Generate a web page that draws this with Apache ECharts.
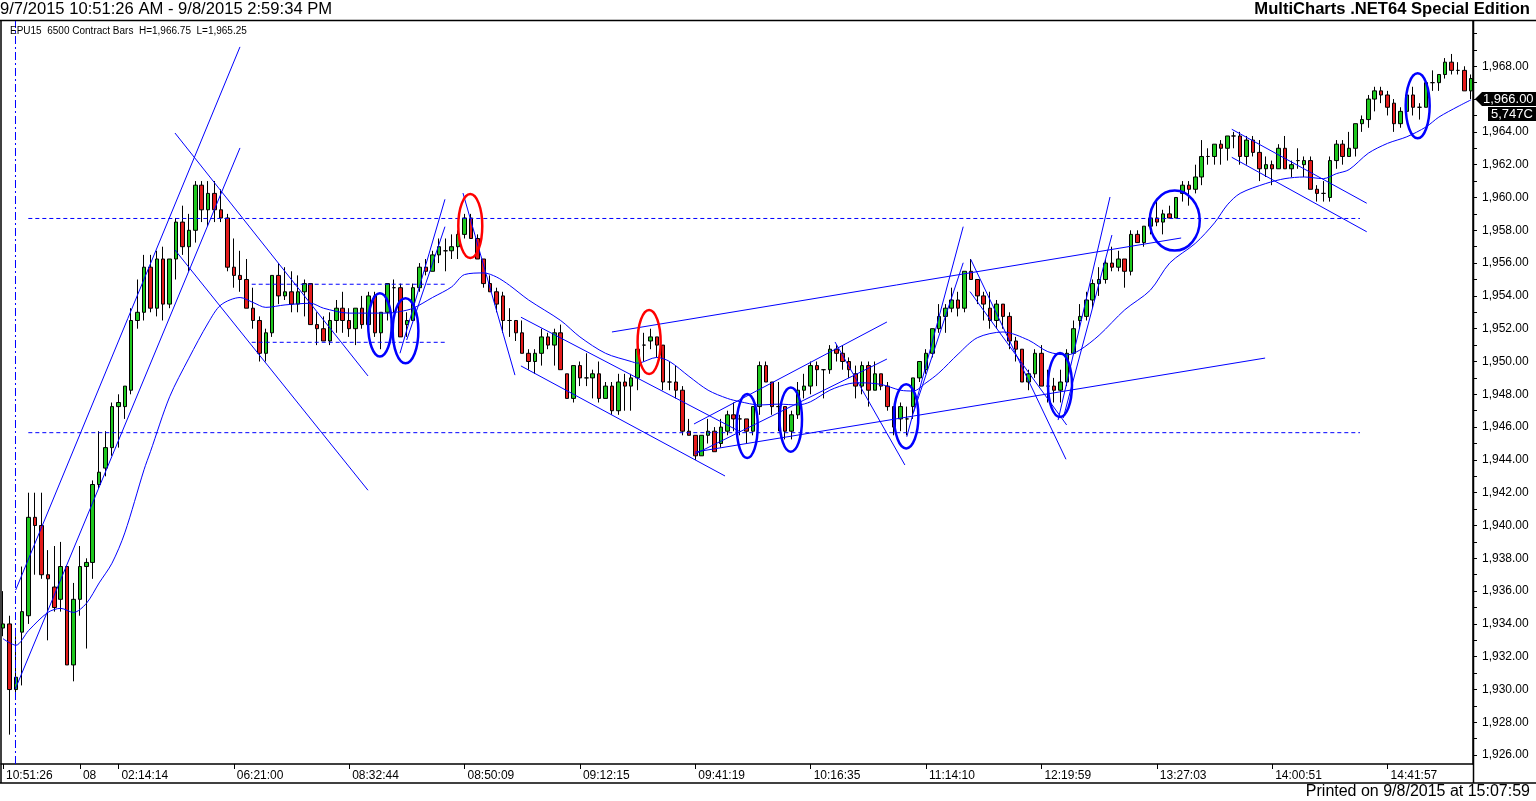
<!DOCTYPE html>
<html>
<head>
    <meta charset="utf-8">
    <title>EPU15 6500 Contract Bars</title>
    <script src="https://cdn.jsdelivr.net/npm/echarts/dist/echarts.min.js"></script>
    <style>
        html, body { margin: 0; padding: 0; background: #fff; }
        #container { width: 1536px; height: 801px; }
    </style>
</head>
<body>
<div id="container"></div>
<script>
    // bars: [open, close, low, high], one per 6500 contracts
    var candles = [
        [1933.75, 1934, 1933.25, 1936], [1934, 1930, 1927.25, 1934.5], [1930, 1930.75, 1929.75, 1933.25],
        [1933.5, 1934.75, 1930.25, 1937.5], [1934.5, 1940.5, 1934, 1942], [1940.5, 1940, 1937, 1942],
        [1940, 1937, 1936.75, 1942], [1937, 1936.75, 1933, 1938.5], [1936.25, 1935, 1934.75, 1938.75],
        [1935.5, 1937.5, 1934.75, 1939], [1937.5, 1931.5, 1931.5, 1937.5], [1931.5, 1935.5, 1930.5, 1936.5],
        [1935.5, 1937.5, 1934.5, 1938.75], [1937.5, 1937.75, 1932.5, 1938], [1937.75, 1942.5, 1936.75, 1942.75],
        [1942.5, 1943.25, 1942.25, 1945.75], [1943.5, 1944.75, 1943, 1945.75], [1944.75, 1947.25, 1944.25, 1947.5],
        [1947.25, 1947.5, 1944.75, 1948], [1947.25, 1948.5, 1946.5, 1948.5], [1948.25, 1952.5, 1948, 1953.25],
        [1952.5, 1953, 1952, 1955], [1953, 1955.75, 1952.5, 1956.5], [1955.75, 1953.25, 1953, 1956.5],
        [1953.25, 1956.25, 1952.75, 1956.75], [1956.25, 1953.5, 1952.5, 1957], [1953.5, 1956.25, 1953.25, 1956.25],
        [1956.25, 1958.5, 1955, 1958.75], [1958.5, 1957, 1956.5, 1959.5], [1957, 1958, 1955.5, 1959],
        [1958, 1960.75, 1957.25, 1961], [1960.75, 1959.25, 1958.5, 1961], [1959.25, 1960.25, 1958.25, 1961],
        [1960.25, 1959.25, 1958.5, 1961], [1959.25, 1958.75, 1958.5, 1960.5], [1958.75, 1955.75, 1955.5, 1959],
        [1955.75, 1955.25, 1954.5, 1957.5], [1955.25, 1955, 1954.25, 1956.75], [1955, 1953.25, 1953.25, 1956.25],
        [1953.25, 1952.5, 1952, 1954.5], [1952.5, 1950.5, 1950, 1952.75], [1950.5, 1951.75, 1950, 1952],
        [1951.75, 1955.25, 1951.5, 1955.25], [1955.25, 1954, 1953.5, 1956], [1954, 1954.25, 1953.75, 1955.75],
        [1954.25, 1953.5, 1953, 1955.5], [1953.5, 1954.25, 1953, 1955.25], [1954.25, 1954.75, 1952.75, 1955],
        [1954.75, 1952.25, 1952.25, 1954.75], [1952.25, 1952, 1951, 1953], [1952, 1951.25, 1951.25, 1952.75],
        [1951.25, 1952.5, 1951, 1953], [1952.5, 1953.25, 1951.75, 1953.75], [1953.25, 1952.5, 1951.75, 1954.25],
        [1952.5, 1952, 1951.5, 1953.25], [1952, 1953.25, 1951, 1953.25], [1953.25, 1952.25, 1952, 1954],
        [1952.25, 1954, 1951.5, 1954.25], [1954, 1951.75, 1951.5, 1954.25], [1951.75, 1953, 1950.75, 1953],
        [1953, 1954.75, 1952.5, 1954.75], [1954.5, 1954.5, 1953, 1955], [1954.5, 1951.5, 1951.5, 1954.75],
        [1952.25, 1952.5, 1951.5, 1953], [1952.5, 1954.5, 1952.5, 1954.75], [1954.5, 1955.75, 1954.25, 1956],
        [1955.75, 1955.5, 1955.25, 1956.25], [1955.5, 1956.5, 1955.5, 1956.75], [1956.5, 1957, 1956, 1957.5],
        [1956.75, 1956.75, 1955.5, 1957.5], [1956.75, 1957, 1956.25, 1957.75], [1957, 1957.75, 1956.25, 1958],
        [1957.75, 1958.75, 1957.5, 1959], [1958.75, 1957.5, 1957.5, 1959], [1957.5, 1956.25, 1956.25, 1957.75],
        [1956.25, 1954.75, 1954.5, 1956.25], [1954.75, 1954.25, 1954.25, 1955.25], [1954.25, 1953.5, 1953, 1954.5],
        [1954, 1952.5, 1951.75, 1954.25], [1952.5, 1952.5, 1951.5, 1953.25], [1952.5, 1951.75, 1951.25, 1952.5],
        [1951.75, 1950.5, 1950.5, 1952.5], [1950.5, 1950, 1949.5, 1950.75], [1950, 1950.5, 1949.25, 1950.75],
        [1950.5, 1951.5, 1949.75, 1952], [1951.5, 1951, 1950.75, 1951.75], [1951, 1951.75, 1949.75, 1952],
        [1951.75, 1949.5, 1949.5, 1952.25], [1949.25, 1947.75, 1947.75, 1949.25], [1947.75, 1949.75, 1947.5, 1949.75],
        [1949.75, 1949, 1948.5, 1950], [1949, 1949, 1948.5, 1950.5], [1949, 1949.25, 1947.75, 1949.5],
        [1949.25, 1947.75, 1947.5, 1950], [1947.75, 1948.5, 1947.75, 1948.75], [1948.5, 1947, 1946.75, 1948.75],
        [1947, 1948.75, 1946.75, 1949.25], [1948.75, 1948.5, 1947, 1949.25], [1948.5, 1949, 1947, 1949.25],
        [1949, 1950.75, 1948.25, 1951.25], [1951, 1951, 1950, 1951.75], [1951.25, 1951.5, 1950.75, 1952],
        [1951.5, 1951, 1950.25, 1951.5], [1951, 1948.75, 1948.25, 1951], [1948.75, 1948.75, 1948.25, 1950],
        [1948.75, 1948.25, 1947.75, 1949.75], [1948.25, 1945.75, 1945.5, 1948.5], [1945.75, 1945.5, 1945.5, 1946.5],
        [1945.5, 1944.25, 1944, 1945.5], [1944.25, 1945.5, 1944.25, 1945.5], [1945.5, 1945.75, 1945, 1946.5],
        [1945.75, 1944.5, 1944.5, 1946], [1945, 1946, 1944.75, 1946.5], [1945.75, 1946.75, 1945.5, 1947],
        [1946.75, 1946.5, 1945.75, 1947.5], [1946.5, 1946.5, 1945.5, 1946.75], [1946.5, 1945.75, 1945, 1946.5],
        [1945.75, 1947.25, 1945.5, 1947.25], [1947.25, 1949.75, 1946.75, 1950], [1949.75, 1948.75, 1948.75, 1950],
        [1948.75, 1947.25, 1946.75, 1948.75], [1947.25, 1947.25, 1945.75, 1948.75], [1947.25, 1945.75, 1945.25, 1947.25],
        [1945.75, 1946.75, 1945.25, 1947], [1946.75, 1948.25, 1946.5, 1948.75], [1948.25, 1948.5, 1947.75, 1949.25],
        [1948.5, 1949.75, 1948, 1950], [1949.75, 1949.5, 1948.5, 1950], [1949.5, 1949.5, 1947.75, 1949.5],
        [1949.5, 1950.75, 1949.25, 1951], [1950.75, 1950.5, 1950, 1951], [1950.5, 1950, 1949.5, 1951],
        [1950, 1949.5, 1949, 1950.25], [1949.25, 1948.5, 1947.75, 1949.75], [1948.5, 1949.75, 1948, 1950],
        [1949.75, 1948.25, 1947.25, 1950], [1948.25, 1949.25, 1948.25, 1950], [1949.25, 1948.5, 1948.25, 1949.25],
        [1948.5, 1947.25, 1947, 1948.75], [1947.25, 1946, 1945.5, 1947.25], [1946.5, 1947.25, 1945.75, 1947.5],
        [1946.5, 1946.5, 1945.5, 1947.25], [1947.25, 1949, 1946.5, 1949], [1949, 1950, 1948.75, 1950],
        [1949.5, 1950.5, 1949.25, 1950.75], [1950.5, 1952, 1950.25, 1952], [1952, 1952.75, 1951.75, 1953.5],
        [1952.75, 1953.25, 1951.75, 1953.5], [1953.25, 1953.75, 1953, 1954.5], [1953.75, 1953.25, 1952.75, 1954.25],
        [1953.25, 1955.5, 1953, 1955.5], [1955.5, 1955, 1955, 1956.25], [1955, 1954, 1953.5, 1955],
        [1954, 1953.5, 1952.5, 1954.25], [1953.25, 1952.5, 1952, 1954.25], [1952.5, 1953.5, 1952, 1953.75],
        [1953.5, 1952.75, 1952, 1953.5], [1952.75, 1951.25, 1950.75, 1953], [1951.25, 1950.75, 1950, 1951.5],
        [1950.75, 1948.75, 1948.75, 1950.75], [1948.75, 1949.25, 1948.25, 1949.5], [1949.25, 1950.5, 1949, 1950.75],
        [1950.5, 1948.5, 1948.5, 1951], [1948.5, 1948.5, 1947.5, 1949.5], [1948.5, 1948.25, 1947.5, 1949],
        [1948.25, 1948.75, 1947.5, 1949.5], [1948.75, 1950.5, 1948.5, 1950.75], [1950.5, 1952, 1950.5, 1952.5],
        [1952.5, 1952.75, 1952, 1953.5], [1952.75, 1953.75, 1952.5, 1954.25], [1953.75, 1954.75, 1953.25, 1955],
        [1954.75, 1955, 1954, 1955.75], [1955, 1956, 1954.75, 1956.25], [1956, 1955.75, 1955.5, 1957],
        [1955.75, 1956.25, 1955.5, 1956.75], [1956.25, 1955.5, 1954.5, 1956.25], [1955.5, 1957.75, 1955.25, 1958],
        [1957.75, 1957.25, 1957.25, 1958], [1957.25, 1958.25, 1957, 1958.25], [1958.25, 1958.75, 1957.75, 1959],
        [1958.75, 1958.5, 1958.25, 1959.75], [1958.5, 1959, 1957.75, 1959.25], [1959, 1958.75, 1958.75, 1959.5],
        [1958.75, 1960, 1958.75, 1960], [1960.25, 1960.75, 1959.75, 1961], [1960.75, 1960.5, 1959.5, 1961],
        [1960.5, 1961.25, 1960.25, 1962], [1961.25, 1962.5, 1960.75, 1963.5], [1962.5, 1962.5, 1962, 1963],
        [1962.5, 1963.25, 1962, 1963.25], [1963.25, 1963, 1962, 1963.5], [1963, 1963.75, 1962.25, 1963.75],
        [1963.75, 1963.75, 1963, 1964], [1963.75, 1962.5, 1962, 1964], [1962.5, 1963.5, 1962, 1963.75],
        [1963.5, 1962.75, 1962.5, 1963.75], [1962.75, 1961.75, 1961, 1963.5], [1961.75, 1962, 1961.25, 1962.5],
        [1962, 1961.75, 1960.75, 1962.25], [1961.75, 1963, 1961.75, 1963.25], [1963, 1961.75, 1961.75, 1963.75],
        [1961.75, 1962, 1961.25, 1962.25], [1962.25, 1962.25, 1961.75, 1963], [1962, 1962.25, 1961.25, 1962.5],
        [1962.25, 1960.5, 1960.5, 1962.5], [1960.5, 1960.25, 1959.75, 1960.75], [1960.25, 1960.25, 1959.75, 1961],
        [1960, 1962.25, 1959.75, 1962.5], [1962.25, 1963.25, 1961.75, 1963.5], [1963.25, 1962.5, 1962, 1963.5],
        [1962.5, 1963, 1962.5, 1964], [1963, 1964.5, 1962.5, 1964.5], [1964.5, 1964.75, 1964, 1965],
        [1964.75, 1966, 1964.25, 1966.25], [1966, 1966.5, 1965.25, 1966.75], [1966.5, 1966.25, 1965.75, 1966.75],
        [1966.25, 1965.5, 1965, 1966.5], [1965.75, 1964.5, 1964, 1966], [1964.5, 1965.25, 1964.25, 1965.5],
        [1965.25, 1966.25, 1965, 1966.25], [1966.25, 1965.5, 1965, 1966.75], [1965.5, 1965.5, 1964.75, 1965.75],
        [1965.5, 1967, 1965.5, 1967], [1967, 1967, 1966.5, 1967.75], [1967, 1967.5, 1966.5, 1967.5],
        [1967.5, 1968.25, 1967.25, 1968.5], [1968.25, 1967.75, 1967.5, 1968.75], [1967.75, 1967.75, 1967.5, 1968.25],
        [1967.75, 1966.5, 1966.5, 1968], [1966.5, 1967.25, 1966, 1967.5]
    ];

    // moving average: [bar index, price]
    var avgLine = [
        [0, 1933.1], [2, 1932.7], [4, 1933.6], [7, 1934.7], [9, 1934.95], [11, 1934.7], [13, 1935.25],
        [15, 1936.5], [17, 1937.7], [19, 1939.55], [22, 1943.4], [23, 1944.5], [26, 1947.85], [29, 1950.2],
        [32, 1952.35], [34, 1953.45], [37, 1953.9], [39, 1953.6], [41, 1953.3], [44, 1953.45], [48, 1953.55],
        [50, 1953.25], [54, 1952.95], [60, 1952.95], [62, 1953.05], [64, 1953.25], [67, 1953.9], [70, 1954.55],
        [72, 1955.3], [75, 1955.4], [77, 1955.15], [79, 1954.65], [82, 1953.75], [87, 1952.5], [90, 1951.5],
        [94, 1950.5], [98, 1950.0], [99, 1949.9], [102, 1950.25], [104, 1950.0], [107, 1949.1], [110, 1948.25],
        [113, 1947.75], [115, 1947.55], [118, 1947.35], [121, 1947.4], [124, 1947.35], [126, 1947.55],
        [129, 1948.25], [132, 1948.65], [134, 1948.7], [137, 1948.6], [140, 1948.25], [142, 1948.2],
        [144, 1948.7], [146, 1949.3], [149, 1950.45], [152, 1951.45], [156, 1951.8], [160, 1951.3],
        [163, 1950.6], [166, 1950.4], [168, 1950.7], [171, 1951.6], [175, 1953.15], [179, 1954.35],
        [182, 1956.0], [186, 1957.2], [189, 1958.45], [191, 1959.55], [193, 1960.25], [197, 1960.85],
        [200, 1961.15], [203, 1961.25], [206, 1961.15], [208, 1961.45], [210, 1961.7], [213, 1962.7],
        [216, 1963.3], [219, 1963.7], [222, 1964.3], [224, 1964.9], [227, 1965.55], [229, 1965.95]
    ];

    // drawn trend lines: [bar1, price1, bar2, price2]
    var trendLines = [
        [1.98, 1936.07, 36.97, 1969.18], [1.98, 1930.09, 36.97, 1963.02],
        [26.83, 1963.93, 56.94, 1949.12], [26.83, 1956.8, 56.94, 1942.15],
        [61.93, 1950.5, 68.95, 1959.89], [62.98, 1951.31, 68.95, 1958.22],
        [71.76, 1960.27, 79.87, 1949.17],
        [80.8, 1952.7, 114.98, 1945.72], [80.8, 1949.73, 112.64, 1943.02],
        [95.0, 1951.8, 183.8, 1957.53],
        [107.8, 1946.19, 137.9, 1952.41], [107.96, 1944.36, 137.9, 1950.15],
        [107.96, 1944.48, 196.9, 1950.21],
        [129.8, 1951.19, 140.7, 1943.69],
        [141.0, 1945.41, 149.8, 1958.22], [142.0, 1946.84, 149.8, 1956.02],
        [150.97, 1956.23, 165.83, 1944.04], [150.86, 1954.26, 165.94, 1946.13],
        [164.6, 1946.43, 172.7, 1960.03], [165.4, 1946.55, 173.0, 1957.71],
        [191.7, 1964.16, 212.75, 1959.65], [191.7, 1962.45, 212.75, 1957.91]
    ];

    // dashed support / resistance levels: [bar1, price, bar2, price]
    var levelLines = [
        [3.95, 1958.72, 211.7, 1958.72], [3.95, 1945.66, 211.7, 1945.66],
        [38.8, 1954.71, 68.95, 1954.71], [38.8, 1951.17, 68.95, 1951.17]
    ];
    var sessionLine = [[1.95, 1925.46, 1.95, 1970.76]];

    // circled bars: [bar, price, half width in bars, half height in points]
    var blueRings = [
        [58.8, 1952.23, 1.83, 1.93], [62.8, 1951.87, 2.0, 1.98], [116.1, 1946.07, 1.64, 1.95],
        [122.9, 1946.46, 1.75, 1.96], [140.9, 1946.66, 1.9, 1.96], [164.9, 1948.57, 1.87, 1.95],
        [182.8, 1958.59, 3.9, 1.83], [220.7, 1965.59, 1.87, 1.98]
    ];
    var redRings = [[72.9, 1958.26, 1.87, 1.95], [100.8, 1951.19, 1.8, 1.95]];

    var timeTickBars = [0, 12, 18, 36, 54, 72, 90, 108, 126, 144, 162, 180, 198, 216];
    var timeTickText = ['10:51:26', '08', '02:14:14', '06:21:00', '08:32:44', '08:50:09', '09:12:15',
        '09:41:19', '10:16:35', '11:14:10', '12:19:59', '13:27:03', '14:00:51', '14:41:57'];
    var priceLabels = [1926, 1928, 1930, 1932, 1934, 1936, 1938, 1940, 1942, 1944, 1946, 1948,
        1950, 1952, 1954, 1956, 1958, 1960, 1962, 1964, 1966, 1968];
    var priceTicks = [1926, 1927, 1928, 1929, 1930, 1931, 1932, 1933, 1934, 1935, 1936, 1937, 1938,
        1939, 1940, 1941, 1942, 1943, 1944, 1945, 1946, 1947, 1948, 1949, 1950, 1951, 1952, 1953,
        1954, 1955, 1956, 1957, 1958, 1959, 1960, 1961, 1962, 1963, 1964, 1965, 1966, 1967, 1968,
        1969, 1970];
    var lastPrice = 1966;
    var lastVolume = '5,747C';

    var font = 'Liberation Sans, Arial, sans-serif';
    var blue = '#0000ff';

    function fmtPrice(v) {
        return v.toLocaleString('en-US', { minimumFractionDigits: 2, maximumFractionDigits: 2 });
    }

    function segmentSeries(rows, style, z) {
        return {
            type: 'custom',
            silent: true,
            z: z,
            data: rows,
            encode: { x: [0, 2], y: [1, 3] },
            renderItem: function (params, api) {
                var a = api.coord([api.value(0), api.value(1)]);
                var b = api.coord([api.value(2), api.value(3)]);
                return {
                    type: 'line',
                    shape: { x1: a[0], y1: a[1], x2: b[0], y2: b[1] },
                    style: style
                };
            }
        };
    }

    function ringSeries(rows, color) {
        return {
            type: 'custom',
            silent: true,
            z: 6,
            data: rows,
            encode: { x: 0, y: 1 },
            renderItem: function (params, api) {
                var c = api.coord([api.value(0), api.value(1)]);
                var s = api.size([api.value(2), api.value(3)]);
                return {
                    type: 'ellipse',
                    shape: { cx: c[0], cy: c[1], rx: s[0], ry: s[1] },
                    style: { fill: 'none', stroke: color, lineWidth: 2.5 }
                };
            }
        };
    }

    // last price and bar volume tags sitting on the price scale
    function priceTagSeries() {
        return {
            type: 'custom',
            silent: true,
            z: 20,
            clip: false,
            data: [[lastPrice]],
            encode: { y: 0 },
            renderItem: function (params, api) {
                var y = api.coord([0, api.value(0)])[1];
                var x0 = params.coordSys.x + params.coordSys.width;
                return {
                    type: 'group',
                    children: [{
                        type: 'polygon',
                        shape: { points: [[x0 + 2, y], [x0 + 9, y - 7], [1536, y - 7], [1536, y + 7], [x0 + 9, y + 7]] },
                        style: { fill: '#000' }
                    }, {
                        type: 'text',
                        x: x0 + 10, y: y,
                        style: { text: fmtPrice(api.value(0)), fill: '#fff', font: '13px ' + font, verticalAlign: 'middle' }
                    }, {
                        type: 'rect',
                        shape: { x: x0 + 15, y: y + 8, width: 1536 - x0 - 15, height: 14 },
                        style: { fill: '#000' }
                    }, {
                        type: 'text',
                        x: x0 + 18, y: y + 15,
                        style: { text: lastVolume, fill: '#fff', font: '13px ' + font, verticalAlign: 'middle' }
                    }]
                };
            }
        };
    }

    var dom = document.getElementById('container');
    var myChart = echarts.init(dom);

    var option = {
        animation: false,
        backgroundColor: '#fff',
        title: [{
            text: '9/7/2015 10:51:26 AM - 9/8/2015 2:59:34 PM',
            left: 0, top: 1, padding: 0,
            textStyle: { fontFamily: font, fontSize: 16.6, fontWeight: 'normal', color: '#000' }
        }, {
            text: 'MultiCharts .NET64 Special Edition',
            right: 6, top: 1, padding: 0,
            textStyle: { fontFamily: font, fontSize: 16.6, fontWeight: 'bold', color: '#000' }
        }, {
            text: 'EPU15  6500 Contract Bars  H=1,966.75  L=1,965.25',
            left: 10, top: 26, padding: 0,
            textStyle: { fontFamily: font, fontSize: 10, fontWeight: 'normal', color: '#000' }
        }, {
            text: 'Printed on 9/8/2015 at 15:07:59',
            right: 6, top: 784, padding: 0,
            textStyle: { fontFamily: font, fontSize: 16, fontWeight: 'normal', color: '#000' }
        }],
        grid: { left: 1, right: 63, top: 21, bottom: 37 },
        xAxis: {
            type: 'value',
            min: -0.312,
            max: 229.33,
            splitLine: { show: false },
            axisLine: { show: true, onZero: false, lineStyle: { color: '#000', width: 1.5 } },
            axisTick: { show: true, customValues: timeTickBars, length: 5, lineStyle: { color: '#000' } },
            axisLabel: {
                customValues: timeTickBars,
                formatter: function (v) {
                    var k = timeTickBars.indexOf(Math.round(v));
                    return k < 0 ? '' : timeTickText[k];
                },
                align: 'left',
                padding: [0, 0, 0, 3],
                margin: 6,
                fontFamily: font,
                fontSize: 12,
                color: '#000'
            }
        },
        yAxis: {
            type: 'value',
            position: 'right',
            min: 1925.46,
            max: 1970.76,
            scale: true,
            splitLine: { show: false },
            axisLine: { show: true, onZero: false, lineStyle: { color: '#000', width: 1.5 } },
            axisTick: { show: true, customValues: priceTicks, length: 4, lineStyle: { color: '#000' } },
            axisLabel: {
                customValues: priceLabels,
                formatter: fmtPrice,
                margin: 9,
                fontFamily: font,
                fontSize: 12,
                color: '#000'
            }
        },
        series: [
            {
                type: 'candlestick',
                z: 3,
                barWidth: 4,
                encode: { x: 0, y: [1, 2, 3, 4] },
                data: candles.map(function (c, i) { return [i, c[0], c[1], c[2], c[3]]; }),
                itemStyle: {
                    color: '#1ec81e',
                    color0: '#e41b1b',
                    borderColor: '#000',
                    borderColor0: '#000',
                    borderColorDoji: '#000',
                    borderWidth: 1
                }
            },
            {
                type: 'line',
                z: 4,
                silent: true,
                data: avgLine,
                smooth: 0.3,
                symbol: 'none',
                lineStyle: { color: blue, width: 1 }
            },
            segmentSeries(trendLines, { stroke: blue, lineWidth: 1 }, 5),
            segmentSeries(levelLines, { stroke: blue, lineWidth: 1, lineDash: [4, 3] }, 5),
            segmentSeries(sessionLine, { stroke: blue, lineWidth: 1, lineDash: [8, 3, 2, 3] }, 5),
            ringSeries(blueRings, blue),
            ringSeries(redRings, '#ff0000'),
            priceTagSeries()
        ],
        graphic: [
            { type: 'line', shape: { x1: 0, y1: 20.5, x2: 1536, y2: 20.5 }, style: { stroke: '#000', lineWidth: 1.5 } },
            { type: 'line', shape: { x1: 1, y1: 20, x2: 1, y2: 783 }, style: { stroke: '#000', lineWidth: 1.5 } },
            { type: 'line', shape: { x1: 1473.5, y1: 20, x2: 1473.5, y2: 783 }, style: { stroke: '#000', lineWidth: 1.5 } },
            { type: 'line', shape: { x1: 0, y1: 783, x2: 1536, y2: 783 }, style: { stroke: '#000', lineWidth: 1.5 } }
        ]
    };

    myChart.setOption(option);

    window.addEventListener('resize', function () {
        myChart.resize();
    });
</script>
</body>
</html>
